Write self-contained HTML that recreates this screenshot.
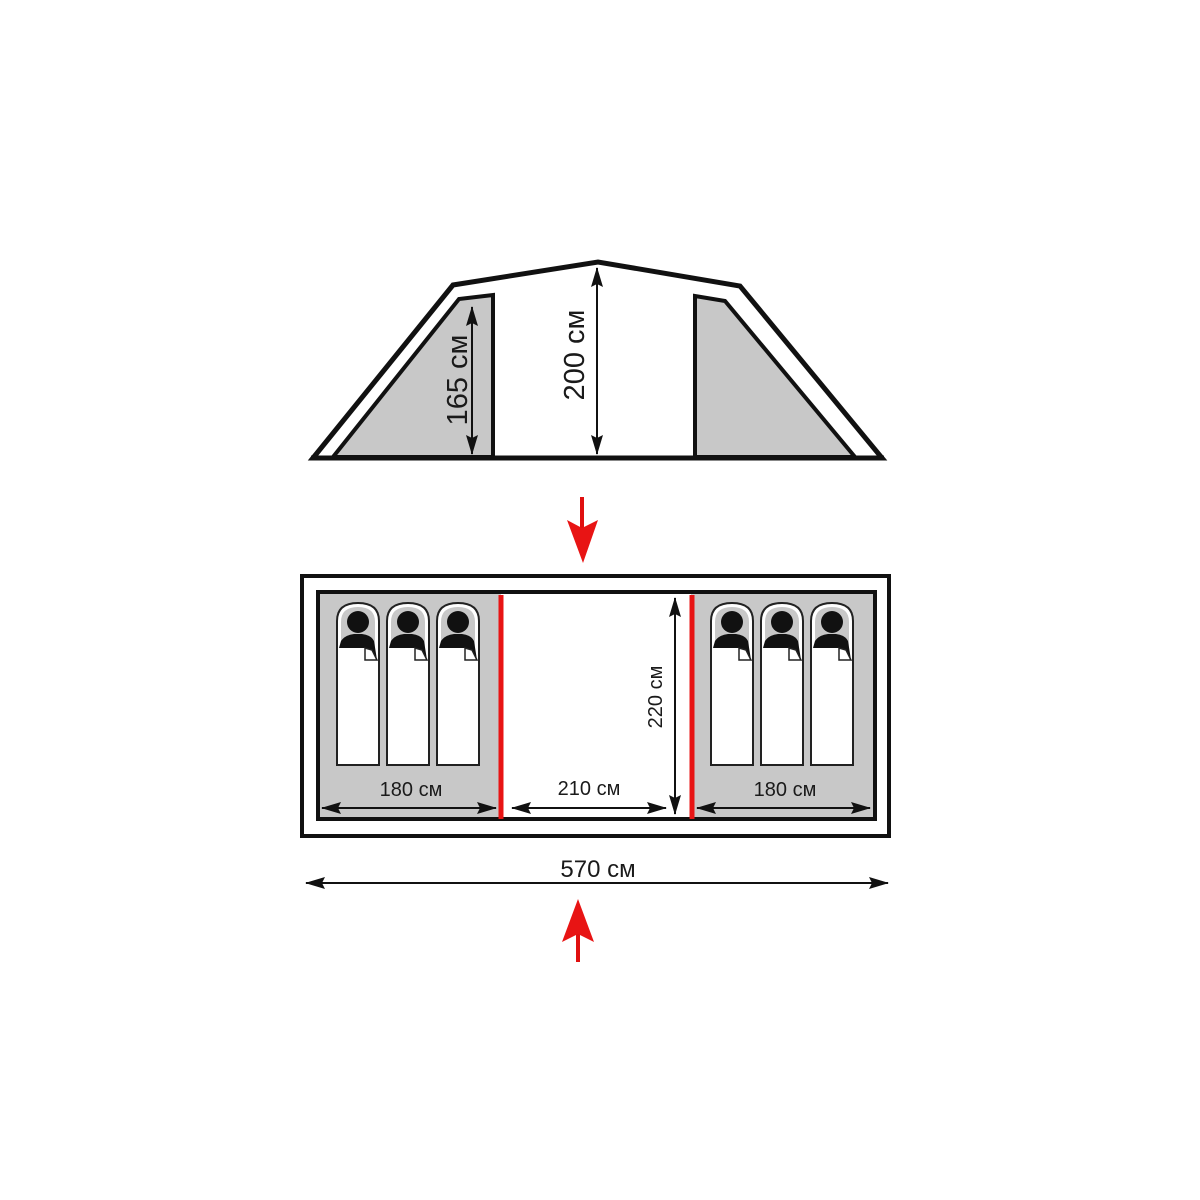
<!DOCTYPE html>
<html><head><meta charset="utf-8"><style>
html,body{margin:0;padding:0;background:#fff;}
svg{display:block;}
text{font-family:"Liberation Sans",sans-serif;fill:#1a1a1a;}
</style></head><body>
<svg width="1200" height="1200" viewBox="0 0 1200 1200" xmlns="http://www.w3.org/2000/svg">
<defs>
<marker id="ah2" viewBox="0 0 20 12" refX="19" refY="6" markerWidth="20" markerHeight="12" orient="auto-start-reverse" markerUnits="userSpaceOnUse">
<path d="M0,0 L20,6 L0,12 L3,6 Z" fill="#111"/>
</marker>
<g id="bag">
<path d="M0,162 L0,18 Q0,0 21,0 Q42,0 42,18 L42,162 Z" fill="#fff" stroke="#222" stroke-width="2"/>
<path d="M4,44 L4,19 Q4,4 21,4 Q38,4 38,19 L38,44 Z" fill="#c8c8c8"/>
<circle cx="21" cy="19" r="11" fill="#111"/>
<path d="M2,45 L4,38 Q8,32 17,31 L25,31 Q34,32 37,38 L40,57 L36,57 L29,45 Z" fill="#111"/>
<path d="M28,45 L28,57 L40,57 L35,47 Z" fill="#fff" stroke="#222" stroke-width="1.5"/>
</g>
</defs>

<polygon points="313,458 453,285 598,262 740,286 882,458" fill="#fff" stroke="#111" stroke-width="5"/>
<polygon points="333,457 459,299 493,295 493,457" fill="#c8c8c8" stroke="#111" stroke-width="4"/>
<polygon points="695,457 695,296 725,301 855,457" fill="#c8c8c8" stroke="#111" stroke-width="4"/>
<line x1="311" y1="458" x2="884" y2="458" stroke="#111" stroke-width="5"/>
<line x1="472" y1="307" x2="472" y2="454" stroke="#111" stroke-width="2" marker-start="url(#ah2)" marker-end="url(#ah2)"/>
<text transform="translate(467,380) rotate(-90)" font-size="29" text-anchor="middle">165 см</text>
<line x1="597" y1="268" x2="597" y2="454" stroke="#111" stroke-width="2" marker-start="url(#ah2)" marker-end="url(#ah2)"/>
<text transform="translate(584,355) rotate(-90)" font-size="29" text-anchor="middle">200 см</text>

<line x1="582" y1="497" x2="582" y2="530" stroke="#e01010" stroke-width="4"/>
<path d="M567,520 L582,528 L598,520 L583,563 Z" fill="#e81414"/>

<rect x="302" y="576" width="587" height="260" fill="#fff" stroke="#111" stroke-width="4"/>
<rect x="318" y="592" width="557" height="227" fill="#c8c8c8" stroke="#111" stroke-width="4"/>
<rect x="501" y="594" width="190" height="223" fill="#fff"/>
<line x1="501" y1="595" x2="501" y2="819" stroke="#e81414" stroke-width="5"/>
<line x1="692" y1="595" x2="692" y2="819" stroke="#e81414" stroke-width="5"/>

<use href="#bag" x="337" y="603"/>
<use href="#bag" x="387" y="603"/>
<use href="#bag" x="437" y="603"/>
<use href="#bag" x="711" y="603"/>
<use href="#bag" x="761" y="603"/>
<use href="#bag" x="811" y="603"/>

<line x1="322" y1="808" x2="496" y2="808" stroke="#111" stroke-width="2" marker-start="url(#ah2)" marker-end="url(#ah2)"/>
<text x="411" y="796" font-size="20" text-anchor="middle">180 см</text>
<line x1="512" y1="808" x2="666" y2="808" stroke="#111" stroke-width="2" marker-start="url(#ah2)" marker-end="url(#ah2)"/>
<text x="589" y="795" font-size="20" text-anchor="middle">210 см</text>
<line x1="697" y1="808" x2="870" y2="808" stroke="#111" stroke-width="2" marker-start="url(#ah2)" marker-end="url(#ah2)"/>
<text x="785" y="796" font-size="20" text-anchor="middle">180 см</text>
<line x1="675" y1="598" x2="675" y2="814" stroke="#111" stroke-width="2" marker-start="url(#ah2)" marker-end="url(#ah2)"/>
<text transform="translate(662,697) rotate(-90)" font-size="20" text-anchor="middle">220 см</text>

<line x1="306" y1="883" x2="888" y2="883" stroke="#111" stroke-width="2" marker-start="url(#ah2)" marker-end="url(#ah2)"/>
<text x="598" y="877" font-size="24" text-anchor="middle">570 см</text>

<line x1="578" y1="930" x2="578" y2="962" stroke="#e01010" stroke-width="4"/>
<path d="M562,942 L578,934 L594,942 L578,899 Z" fill="#e81414"/>
</svg>
</body></html>
